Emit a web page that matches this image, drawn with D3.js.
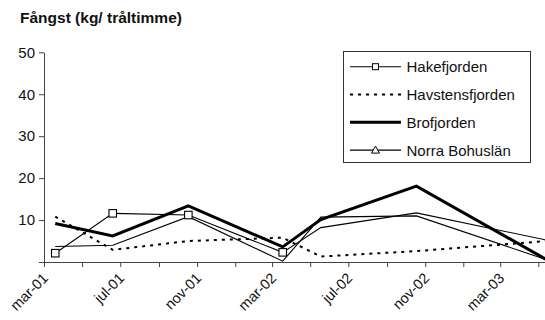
<!DOCTYPE html>
<html>
<head>
<meta charset="utf-8">
<script src="https://cdn.jsdelivr.net/npm/d3@7"></script>
<style>
  html, body { margin: 0; padding: 0; background: #fff; }
  svg { display: block; font-family: "Liberation Sans", Arial, sans-serif; }
</style>
</head>
<body>
<svg id="chart" width="545" height="320"></svg>
<script>
// Sampling dates (trawl surveys)
const sampleDates = ["2001-03-19", "2001-06-19", "2001-10-18", "2002-03-18", "2002-05-18", "2002-10-18", "2003-05-15"];

// Catch per trawl hour (kg)
const hakefjorden     = [2.1, 11.6, 11.2, 2.3, 8.2, 11.7, 5.2];
const havstensfjorden = [10.8, 2.9, 5.0, 5.8, 1.3, 2.6, 5.0];
const brofjorden      = [9.2, 6.2, 13.4, 3.6, 10.1, 18.1, 0.5];
const norraBohuslan   = [3.7, 4.0, 10.8, 0.2, 10.7, 11.0, 0.5];

const seriesNames = ["Hakefjorden", "Havstensfjorden", "Brofjorden", "Norra Bohuslän"];

// Axis labels
const yTicks = [0, 10, 20, 30, 40, 50];
const yTickLabels = ["", "10", "20", "30", "40", "50"];
const xTickLabels = ["mar-01", "jul-01", "nov-01", "mar-02", "jul-02", "nov-02", "mar-03"];
const title = "Fångst (kg/ tråltimme)";

const parse = d3.timeParse("%Y-%m-%d");
const dates = sampleDates.map(parse);

const svg = d3.select("#chart");

const x = d3.scaleTime()
  .domain([new Date(2001, 2, 1), new Date(2003, 4, 1)])
  .range([44, 538.3]);
const y = d3.scaleLinear().domain([0, 50]).range([262, 52.3]);

// Title
svg.append("text")
  .attr("x", 20).attr("y", 22.5)
  .attr("font-size", 15.5).attr("font-weight", "bold").attr("fill", "#111")
  .text(title);

// Axes
const axisColor = "#444";
const tickDates = d3.timeMonth.range(new Date(2001, 2, 1), new Date(2003, 5, 2), 2);
const labelDates = tickDates.filter(d => (d.getMonth() - 2 + 12) % 4 === 0);
const labelFor = new Map(labelDates.map((d, i) => [+d, xTickLabels[i]]));

const xAxis = svg.append("g")
  .attr("transform", `translate(0,${y(0)})`)
  .call(d3.axisBottom(x).tickValues(tickDates).tickSize(5).tickSizeOuter(0).tickFormat(() => ""));
xAxis.select(".domain").attr("d", `M${x.range()[0]},0.5H545`);
xAxis.selectAll(".domain, .tick line").attr("stroke", axisColor);

svg.append("g")
  .selectAll("text")
  .data(labelDates)
  .join("text")
  .attr("transform", d => `translate(${x(d) + 5},${y(0) + 17}) rotate(-45)`)
  .attr("text-anchor", "end")
  .attr("font-size", 14.5)
  .attr("fill", "#111")
  .text(d => labelFor.get(+d));

const yAxis = svg.append("g")
  .attr("transform", `translate(${x.range()[0]},0)`)
  .call(d3.axisLeft(y).tickValues(yTicks).tickSize(5).tickSizeOuter(0).tickPadding(4)
    .tickFormat((d, i) => yTickLabels[i]));
yAxis.selectAll(".domain, .tick line").attr("stroke", axisColor);
yAxis.selectAll("text").attr("font-size", 15).attr("fill", "#111")
  .attr("font-family", "Liberation Sans, Arial, sans-serif");

// Lines
const styles = {
  "Hakefjorden":     { width: 1.1, dash: null, marker: "square" },
  "Havstensfjorden": { width: 2, dash: "3,5", marker: null },
  "Brofjorden":      { width: 3, dash: null, marker: null },
  "Norra Bohuslän":  { width: 1.1, dash: null, marker: "triangle" }
};
const values = {
  "Hakefjorden": hakefjorden,
  "Havstensfjorden": havstensfjorden,
  "Brofjorden": brofjorden,
  "Norra Bohuslän": norraBohuslan
};
// Hakefjorden carries square markers on its first-year surveys
const hakeMarkedCount = 4;

const line = d3.line().x((d, i) => x(dates[i])).y(d => y(d));
const drawOrder = ["Havstensfjorden", "Norra Bohuslän", "Hakefjorden", "Brofjorden"];
svg.append("g").selectAll("path")
  .data(drawOrder)
  .join("path")
  .attr("d", n => line(values[n]))
  .attr("fill", "none")
  .attr("stroke", "#000")
  .attr("stroke-width", n => styles[n].width)
  .attr("stroke-dasharray", n => styles[n].dash)
  .attr("stroke-linejoin", "miter");

const sq = 7.5;
svg.append("g").selectAll("rect")
  .data(hakefjorden.slice(0, hakeMarkedCount))
  .join("rect")
  .attr("x", (d, i) => x(dates[i]) - sq / 2)
  .attr("y", d => y(d) - sq / 2)
  .attr("width", sq).attr("height", sq)
  .attr("fill", "#fff").attr("stroke", "#000").attr("stroke-width", 1.1);

// Legend
const lg = svg.append("g");
lg.append("rect")
  .attr("x", 343.5).attr("y", 51.5).attr("width", 187).attr("height", 111)
  .attr("fill", "#fff").attr("stroke", "#333").attr("stroke-width", 1);
const rowY = i => 66.7 + i * 27.8;
seriesNames.forEach((n, i) => {
  const st = styles[n];
  const yy = rowY(i);
  lg.append("line")
    .attr("x1", 350).attr("x2", 401).attr("y1", yy).attr("y2", yy)
    .attr("stroke", "#000").attr("stroke-width", st.width)
    .attr("stroke-dasharray", st.dash);
  if (st.marker === "square") {
    lg.append("rect").attr("x", 375.5 - 3).attr("y", yy - 3).attr("width", 6).attr("height", 6)
      .attr("fill", "#fff").attr("stroke", "#000").attr("stroke-width", 1);
  } else if (st.marker === "triangle") {
    lg.append("path")
      .attr("d", `M${375.5},${yy - 4}L${379.5},${yy + 3}L${371.5},${yy + 3}Z`)
      .attr("fill", "#fff").attr("stroke", "#000").attr("stroke-width", 1);
  }
  lg.append("text")
    .attr("x", 406.5).attr("y", yy).attr("dy", "0.36em")
    .attr("font-size", 15).attr("fill", "#111")
    .text(n);
});
</script>
</body>
</html>
